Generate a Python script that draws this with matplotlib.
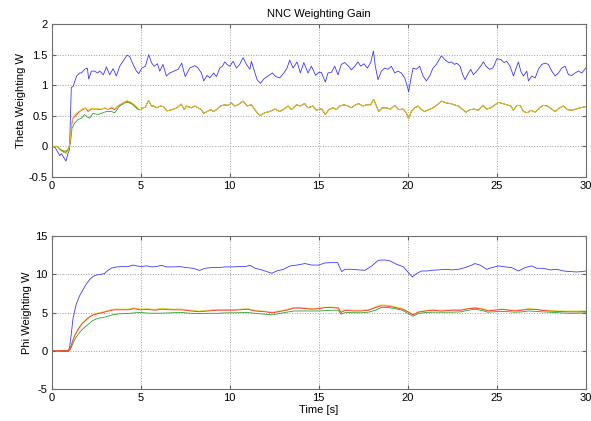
import matplotlib
matplotlib.use("Agg")
import matplotlib.pyplot as plt

plt.rcParams['font.family'] = ['Liberation Sans', 'DejaVu Sans']

# --- Theta weighting, blue gain ---
theta_blue_t = [
    0.0, 0.2, 0.35, 0.45, 0.55, 0.65, 0.8, 0.92, 1.0, 1.1,
    1.2, 1.4, 1.57, 1.67, 1.85, 2.0, 2.08, 2.23, 2.4, 2.57,
    2.7, 2.9, 3.07, 3.26, 3.45, 3.63, 3.82, 4.0, 4.23, 4.38,
    4.57, 4.76, 4.89, 5.07, 5.26, 5.45, 5.6, 5.75, 5.94, 6.07,
    6.25, 6.44, 6.63, 6.87, 7.1, 7.3, 7.5, 7.75, 8.04, 8.22,
    8.41, 8.54, 8.73, 8.88, 9.1, 9.25, 9.44, 9.59, 9.72, 9.85,
    10.0, 10.19, 10.38, 10.56, 10.75, 10.94, 11.13, 11.22, 11.35, 11.54,
    11.72, 11.91, 12.16, 12.4, 12.59, 12.81, 13.04, 13.22, 13.37, 13.56,
    13.78, 13.97, 14.16, 14.4, 14.59, 14.83, 15.0, 15.15, 15.37, 15.52,
    15.71, 15.9, 16.08, 16.27, 16.46, 16.68, 16.83, 17.02, 17.21, 17.36,
    17.54, 17.73, 17.92, 18.07, 18.18, 18.33, 18.52, 18.7, 18.89, 19.08,
    19.27, 19.45, 19.64, 19.83, 19.98, 20.05, 20.17, 20.3, 20.48, 20.67,
    20.86, 21.05, 21.23, 21.42, 21.61, 21.89, 22.11, 22.3, 22.45, 22.64,
    22.75, 22.94, 23.09, 23.22, 23.41, 23.54, 23.69, 23.88, 24.07, 24.25,
    24.4, 24.59, 24.78, 24.91, 25.0, 25.23, 25.41, 25.56, 25.75, 25.94,
    26.09, 26.22, 26.35, 26.5, 26.69, 26.78, 26.97, 27.16, 27.34, 27.53,
    27.72, 27.9, 28.09, 28.28, 28.47, 28.65, 28.84, 29.03, 29.22, 29.4,
    29.59, 29.78, 30.0,
]
theta_blue = [
    0.0, -0.02, -0.1, -0.15, -0.12, -0.17, -0.24, -0.11, -0.05, 0.96,
    0.98, 1.15, 1.2, 1.2, 1.26, 1.28, 1.1, 1.23, 1.23, 1.2,
    1.23, 1.17, 1.3, 1.17, 1.27, 1.15, 1.31, 1.39, 1.49, 1.47,
    1.34, 1.23, 1.19, 1.28, 1.31, 1.5, 1.37, 1.31, 1.35, 1.23,
    1.34, 1.15, 1.2, 1.23, 1.26, 1.36, 1.14, 1.28, 1.32, 1.28,
    1.2, 1.07, 1.16, 1.12, 1.2, 1.14, 1.28, 1.31, 1.38, 1.34,
    1.31, 1.39, 1.28, 1.34, 1.45, 1.34, 1.26, 1.39, 1.26, 1.09,
    1.03, 1.1, 1.15, 1.2, 1.14, 1.12, 1.2, 1.28, 1.41, 1.28,
    1.38, 1.2, 1.37, 1.2, 1.31, 1.16, 1.21, 1.21, 1.05, 1.2,
    1.21, 1.31, 1.17, 1.34, 1.37, 1.31, 1.25, 1.31, 1.38, 1.31,
    1.35, 1.28, 1.37, 1.56, 1.31, 1.09, 1.23, 1.28, 1.26, 1.31,
    1.2, 1.23, 1.2, 1.12, 0.98, 0.89, 1.09, 1.28, 1.26, 1.31,
    1.15, 1.07, 1.15, 1.28, 1.34, 1.48, 1.41, 1.37, 1.38, 1.34,
    1.36, 1.31, 1.17, 1.09, 1.2, 1.26, 1.17, 1.23, 1.3, 1.38,
    1.31, 1.26, 1.28, 1.36, 1.43, 1.42, 1.37, 1.39, 1.31, 1.15,
    1.28, 1.38, 1.23, 1.15, 1.23, 1.07, 1.15, 1.12, 1.26, 1.34,
    1.36, 1.34, 1.23, 1.15, 1.2, 1.28, 1.31, 1.17, 1.16, 1.2,
    1.23, 1.2, 1.28,
]

# --- Theta weighting, the three lower gains (start-up part, t < 5 s) ---
theta_red_t = [0.0, 0.3, 0.45, 0.6, 0.8, 0.95, 1.05, 1.12, 1.2, 1.4,
               1.57, 1.76, 1.9, 2.04, 2.23, 2.5, 2.79, 2.98, 3.16, 3.35,
               3.54, 3.73, 4.0, 4.23, 4.48, 4.7, 4.89]
theta_red = [0.0, 0.0, -0.05, -0.08, -0.1, -0.05, 0.1, 0.35, 0.46, 0.52,
             0.57, 0.6, 0.63, 0.57, 0.61, 0.61, 0.6, 0.63, 0.6, 0.63,
             0.6, 0.66, 0.71, 0.74, 0.71, 0.66, 0.6]

theta_green_t = [0.0, 0.3, 0.45, 0.6, 0.8, 0.95, 1.05, 1.14, 1.29, 1.48,
                 1.67, 1.85, 2.0, 2.13, 2.32, 2.6, 2.88, 3.07, 3.35, 3.54,
                 3.82, 4.1, 4.29, 4.57, 4.85]
theta_green = [0.0, 0.0, -0.04, -0.07, -0.08, -0.04, 0.05, 0.3, 0.38, 0.44,
               0.46, 0.52, 0.48, 0.46, 0.54, 0.52, 0.55, 0.57, 0.57, 0.55,
               0.66, 0.71, 0.72, 0.68, 0.6]

theta_yellow_t = [0.0, 0.3, 0.45, 0.6, 0.8, 0.95, 1.05, 1.12, 1.2, 1.4,
                  1.57, 1.76, 1.9, 2.04, 2.23, 2.5, 2.79, 2.98, 3.16, 3.35,
                  3.54, 3.73, 4.0, 4.23, 4.48, 4.7, 4.89]
theta_yellow = [0.0, 0.0, -0.06, -0.09, -0.12, -0.06, 0.12, 0.38, 0.48, 0.55,
                0.58, 0.62, 0.62, 0.6, 0.62, 0.62, 0.61, 0.62, 0.6, 0.65,
                0.62, 0.67, 0.71, 0.75, 0.72, 0.67, 0.61]

# after ~5 s the three lower gains lie on top of each other
theta_tail_t = [
    5.0, 5.13, 5.25, 5.44, 5.6, 5.72, 5.9, 6.1, 6.28, 6.47,
    6.75, 7.03, 7.28, 7.45, 7.57, 7.85, 8.04, 8.22, 8.41, 8.54,
    8.73, 8.92, 9.1, 9.25, 9.48, 9.72, 9.91, 10.1, 10.28, 10.47,
    10.75, 10.98, 11.22, 11.41, 11.69, 11.97, 12.25, 12.53, 12.81, 13.0,
    13.28, 13.47, 13.75, 13.97, 14.21, 14.4, 14.68, 14.87, 15.06, 15.18,
    15.37, 15.56, 15.8, 16.0, 16.18, 16.42, 16.65, 16.83, 17.02, 17.24,
    17.49, 17.68, 17.92, 18.09, 18.24, 18.37, 18.56, 18.8, 19.04, 19.27,
    19.49, 19.74, 19.92, 20.05, 20.2, 20.39, 20.58, 20.77, 20.95, 21.18,
    21.42, 21.66, 21.89, 22.17, 22.41, 22.6, 22.85, 23.09, 23.28, 23.5,
    23.73, 23.97, 24.21, 24.44, 24.66, 24.91, 25.1, 25.34, 25.56, 25.79,
    25.94, 26.13, 26.31, 26.5, 26.72, 26.91, 27.16, 27.4, 27.62, 27.85,
    28.09, 28.28, 28.52, 28.75, 28.97, 29.22, 29.46, 29.68, 30.0,
]
theta_tail = [
    0.6, 0.63, 0.64, 0.75, 0.66, 0.66, 0.63, 0.66, 0.65, 0.58,
    0.6, 0.63, 0.69, 0.6, 0.66, 0.63, 0.66, 0.63, 0.6, 0.54,
    0.57, 0.6, 0.57, 0.6, 0.66, 0.68, 0.67, 0.71, 0.66, 0.68,
    0.74, 0.66, 0.68, 0.6, 0.5, 0.55, 0.57, 0.61, 0.57, 0.6,
    0.66, 0.6, 0.68, 0.66, 0.7, 0.63, 0.66, 0.59, 0.61, 0.61,
    0.52, 0.6, 0.63, 0.6, 0.66, 0.68, 0.66, 0.63, 0.67, 0.7,
    0.66, 0.68, 0.68, 0.77, 0.66, 0.57, 0.63, 0.63, 0.61, 0.67,
    0.6, 0.61, 0.55, 0.45, 0.57, 0.63, 0.66, 0.6, 0.57, 0.6,
    0.63, 0.68, 0.74, 0.71, 0.7, 0.68, 0.66, 0.6, 0.56, 0.6,
    0.61, 0.59, 0.67, 0.61, 0.63, 0.68, 0.72, 0.7, 0.68, 0.66,
    0.59, 0.67, 0.67, 0.57, 0.55, 0.59, 0.56, 0.63, 0.67, 0.66,
    0.61, 0.57, 0.63, 0.66, 0.6, 0.59, 0.61, 0.63, 0.65,
]

# --- Phi weighting, blue gain ---
phi_blue_t = [
    0.0, 0.3, 0.9, 1.0, 1.1, 1.2, 1.38, 1.57, 1.76, 1.94,
    2.13, 2.32, 2.51, 2.79, 2.97, 3.16, 3.35, 3.63, 3.91, 4.28,
    4.57, 4.75, 5.03, 5.31, 5.6, 5.88, 6.16, 6.44, 6.81, 7.19,
    7.56, 7.94, 8.31, 8.59, 8.97, 9.34, 9.71, 10.11, 10.49, 10.86,
    11.14, 11.43, 11.8, 12.08, 12.36, 12.64, 13.02, 13.39, 13.77, 14.23,
    14.61, 14.98, 15.36, 15.73, 16.07, 16.14, 16.29, 16.48, 16.86, 17.23,
    17.6, 17.98, 18.35, 18.73, 19.01, 19.38, 19.76, 20.04, 20.26, 20.5,
    20.79, 21.07, 21.35, 21.72, 22.1, 22.47, 22.85, 23.22, 23.6, 23.78,
    24.06, 24.44, 24.72, 25.09, 25.47, 25.84, 26.22, 26.59, 26.97, 27.25,
    27.62, 28.0, 28.37, 28.75, 29.12, 29.49, 29.78, 30.0,
]
phi_blue = [
    0.0, -0.05, -0.1, 0.4, 2.2, 4.3, 6.1, 7.2, 8.0, 8.7,
    9.3, 9.7, 9.9, 10.0, 10.1, 10.5, 10.8, 10.96, 11.0, 11.0,
    11.2, 11.1, 11.0, 11.1, 10.96, 11.0, 11.17, 10.96, 10.96, 11.0,
    10.87, 10.78, 10.5, 10.78, 10.87, 10.87, 10.96, 10.96, 11.0, 11.0,
    11.17, 10.78, 10.57, 10.35, 10.13, 10.43, 10.65, 11.09, 11.2, 11.4,
    11.2, 11.2, 11.48, 11.52, 11.52, 11.09, 10.35, 10.65, 10.65, 10.57,
    10.52, 11.09, 11.83, 11.87, 11.74, 11.3, 10.96, 10.2, 9.65, 10.1,
    10.43, 10.43, 10.52, 10.57, 10.65, 10.57, 10.65, 10.87, 11.2, 11.4,
    11.2, 10.65, 10.87, 11.09, 10.96, 10.87, 10.43, 10.87, 11.09, 10.78,
    10.78, 10.57, 10.65, 10.43, 10.35, 10.3, 10.35, 10.43,
]

# --- Phi weighting, the three lower gains ---
phi_t = [
    0.0, 0.9, 1.0, 1.1, 1.2, 1.3, 1.5, 1.7, 1.9, 2.1,
    2.3, 2.6, 2.9, 3.2, 3.5, 3.8, 4.3, 4.6, 5.0, 5.4,
    5.8, 6.2, 6.7, 7.3, 7.8, 8.3, 8.8, 9.3, 9.9, 10.3,
    11.0, 11.4, 12.0, 12.4, 12.8, 13.2, 13.6, 14.0, 14.6, 15.0,
    15.4, 15.7, 16.1, 16.25, 16.5, 16.9, 17.4, 17.8, 18.2, 18.5,
    18.9, 19.3, 19.7, 20.0, 20.3, 20.6, 21.0, 21.4, 21.9, 22.5,
    23.0, 23.4, 23.8, 24.2, 24.5, 24.9, 25.3, 25.7, 26.0, 26.4,
    26.8, 27.2, 27.5, 27.9, 28.5, 29.0, 29.6, 30.0,
]
phi_red = [
    0.0, 0.0, 0.05, 0.7, 1.4, 2.0, 2.85, 3.5, 3.95, 4.35,
    4.65, 4.85, 5.0, 5.2, 5.35, 5.35, 5.35, 5.5, 5.35, 5.4,
    5.3, 5.43, 5.35, 5.35, 5.2, 5.1, 5.2, 5.3, 5.3, 5.3,
    5.43, 5.2, 5.09, 4.96, 5.13, 5.3, 5.57, 5.57, 5.43, 5.5,
    5.65, 5.65, 5.57, 5.0, 5.3, 5.2, 5.2, 5.3, 5.65, 5.87,
    5.83, 5.65, 5.43, 5.1, 4.7, 5.04, 5.2, 5.3, 5.2, 5.3,
    5.3, 5.5, 5.57, 5.43, 5.2, 5.3, 5.4, 5.3, 5.2, 5.3,
    5.43, 5.4, 5.3, 5.2, 5.13, 5.09, 5.09, 5.13,
]
phi_green = [
    0.0, 0.0, 0.0, 0.45, 1.0, 1.5, 2.2, 2.75, 3.15, 3.55,
    3.95, 4.25, 4.35, 4.55, 4.75, 4.83, 4.88, 4.95, 5.0, 4.92,
    4.9, 4.92, 4.96, 5.0, 4.9, 4.85, 4.9, 4.9, 4.96, 4.96,
    5.0, 4.9, 4.78, 4.7, 4.87, 5.04, 5.2, 5.2, 5.2, 5.2,
    5.25, 5.3, 5.3, 4.78, 5.0, 4.98, 4.96, 5.05, 5.3, 5.65,
    5.65, 5.5, 5.3, 4.9, 4.52, 4.87, 5.0, 5.04, 5.04, 5.04,
    5.09, 5.3, 5.43, 5.25, 5.04, 5.1, 5.13, 5.1, 5.04, 5.08,
    5.2, 5.15, 5.09, 5.05, 4.96, 4.9, 4.92, 4.96,
]
phi_yellow = [
    0.0, 0.0, 0.05, 0.8, 1.5, 2.1, 2.95, 3.6, 4.05, 4.45,
    4.75, 4.95, 5.1, 5.3, 5.45, 5.45, 5.45, 5.6, 5.45, 5.5,
    5.4, 5.55, 5.45, 5.45, 5.3, 5.2, 5.3, 5.4, 5.4, 5.4,
    5.5, 5.3, 5.15, 5.05, 5.2, 5.4, 5.65, 5.65, 5.5, 5.6,
    5.7, 5.72, 5.65, 5.1, 5.35, 5.3, 5.3, 5.35, 5.75, 6.0,
    5.95, 5.75, 5.5, 5.15, 4.75, 5.1, 5.25, 5.35, 5.3, 5.35,
    5.35, 5.55, 5.65, 5.5, 5.3, 5.35, 5.45, 5.35, 5.3, 5.35,
    5.5, 5.45, 5.35, 5.3, 5.2, 5.2, 5.2, 5.2,
]

blue, red, green, yellow = '#3a3aff', '#ff2a2a', '#30a030', '#d4d820'
lw = 0.6


def style_axes(ax, ylim, yticks, ylabel):
    ax.set_xlim(0, 30)
    ax.set_ylim(*ylim)
    ax.set_xticks([0, 5, 10, 15, 20, 25, 30])
    ax.set_yticks(yticks)
    ax.set_yticklabels([f'{v:g}' for v in yticks])
    ax.set_ylabel(ylabel, fontsize=8, labelpad=2)
    ax.grid(True, linestyle=':', color='#a0a0a0', linewidth=0.7)
    ax.tick_params(direction='in', top=True, right=True, labelsize=8,
                   length=3, color='#606060', pad=3)
    for s in ax.spines.values():
        s.set_color('#707070')
        s.set_linewidth(0.8)


fig = plt.figure(figsize=(5.91, 4.21), dpi=100)
ax1 = fig.add_axes([0.0875, 0.5796, 0.9036, 0.3634])
ax2 = fig.add_axes([0.0875, 0.0760, 0.9036, 0.3634])

# top: theta weighting
ax1.plot(theta_blue_t, theta_blue, color=blue, lw=lw)
ax1.plot(theta_green_t + theta_tail_t, theta_green + theta_tail, color=green, lw=lw)
ax1.plot(theta_red_t + theta_tail_t, theta_red + theta_tail, color=red, lw=lw)
ax1.plot(theta_yellow_t + theta_tail_t, theta_yellow + theta_tail, color=yellow, lw=lw)
style_axes(ax1, (-0.5, 2), [-0.5, 0, 0.5, 1, 1.5, 2], 'Theta Weighting W')
ax1.set_title('NNC Weighting Gain', fontsize=8, pad=5)

# bottom: phi weighting
ax2.plot(phi_blue_t, phi_blue, color=blue, lw=lw)
ax2.plot(phi_t, phi_green, color=green, lw=lw)
ax2.plot(phi_t, phi_yellow, color=yellow, lw=lw)
ax2.plot(phi_t, phi_red, color=red, lw=lw)
style_axes(ax2, (-5, 15), [-5, 0, 5, 10, 15], 'Phi Weighting W')
ax2.set_xlabel('Time [s]', fontsize=8, labelpad=1)

fig.savefig('out.png', dpi=100)
